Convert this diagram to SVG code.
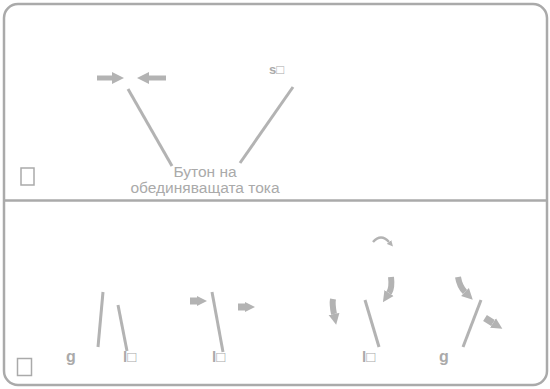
<svg xmlns="http://www.w3.org/2000/svg" width="550" height="389" viewBox="0 0 550 389">
<defs>
<style>
.frame{fill:none;stroke:#aaaaaa;stroke-width:2.5}
.lead{stroke:#b3b3b3;stroke-width:3;fill:none;stroke-linecap:butt}
.arr{stroke:#b3b3b3;fill:none}
.lbl{font-family:"Liberation Sans",Arial,sans-serif;font-size:15px;font-weight:bold;fill:#aaaaaa}
.cap{font-family:"Liberation Sans",Arial,sans-serif;font-size:15.5px;fill:#aaaaaa;text-anchor:middle}
.box{fill:none;stroke:#aaaaaa;stroke-width:1.5}
</style>
<marker id="h1" viewBox="0 0 10 10" refX="0" refY="5" markerWidth="13" markerHeight="12" markerUnits="userSpaceOnUse" orient="auto"><path d="M0,0 L10,5 L0,10 z" fill="#b3b3b3"/></marker>
<marker id="h2" viewBox="0 0 10 10" refX="0" refY="5" markerWidth="10" markerHeight="16" markerUnits="userSpaceOnUse" orient="auto"><path d="M0,0 L10,5 L0,10 z" fill="#b3b3b3"/></marker>
<marker id="h3" viewBox="0 0 10 10" refX="0" refY="5" markerWidth="11" markerHeight="15" markerUnits="userSpaceOnUse" orient="auto"><path d="M0,0 L10,5 L0,10 z" fill="#b3b3b3"/></marker>
<marker id="h4" viewBox="0 0 10 10" refX="0" refY="5" markerWidth="6" markerHeight="7" markerUnits="userSpaceOnUse" orient="auto"><path d="M0,0 L10,5 L0,10 z" fill="#b3b3b3"/></marker>
</defs>
<g id="frame">
<rect class="frame" x="4" y="4" width="543" height="381" rx="14" ry="14"/>
<line class="frame" x1="4" y1="200.5" x2="547" y2="200.5"/>
</g>
<g id="top-panel">
<rect class="box" x="21" y="168" width="13" height="17"/>
<text class="lbl" x="269" y="74" style="font-size:13px">s□</text>
<text class="cap" x="205" y="177">Бутон на</text>
<text class="cap" x="205" y="193">обединяващата тока</text>
</g>
<g id="bottom-panel">
<rect class="box" x="17.5" y="358.5" width="14" height="17"/>
<text class="lbl" x="66" y="362" style="font-size:16px">g</text>
<text class="lbl" x="123" y="362">l□</text>
<text class="lbl" x="212" y="362">l□</text>
<text class="lbl" x="362" y="362">l□</text>
<text class="lbl" x="439" y="362" style="font-size:16px">g</text>
</g>
<g id="connectors">
<line class="lead" x1="128" y1="89" x2="172" y2="166"/>
<line class="lead" x1="293" y1="87" x2="240" y2="163"/>
<line class="lead" x1="103" y1="292" x2="98" y2="347"/>
<line class="lead" x1="118" y1="305" x2="127" y2="351"/>
<line class="lead" x1="212" y1="292" x2="223" y2="352"/>
<line class="lead" x1="365" y1="300" x2="379" y2="347"/>
<line class="lead" x1="481" y1="300" x2="463" y2="347"/>
<path class="arr" stroke-width="5" d="M97,78 L112,78" marker-end="url(#h1)"/>
<path class="arr" stroke-width="5" d="M166,78 L149,78" marker-end="url(#h1)"/>
<path class="arr" stroke-width="7" d="M190,301 L197,301" marker-end="url(#h2)"/>
<path class="arr" stroke-width="7" d="M238,307 L245,307" marker-end="url(#h2)"/>
<path class="arr" stroke-width="2.5" d="M373,242 Q381,233 389,242" marker-end="url(#h4)"/>
<path class="arr" stroke-width="6" d="M391,277 C392,285 391,290 389,293" marker-end="url(#h3)"/>
<path class="arr" stroke-width="6" d="M333,299 C332,304 333,309 334,314" marker-end="url(#h3)"/>
<path class="arr" stroke-width="6" d="M458,277 C459,283 461,288 465,292" marker-end="url(#h3)"/>
<path class="arr" stroke-width="7" d="M485,318 L493,323" marker-end="url(#h3)"/>
</g>
</svg>
